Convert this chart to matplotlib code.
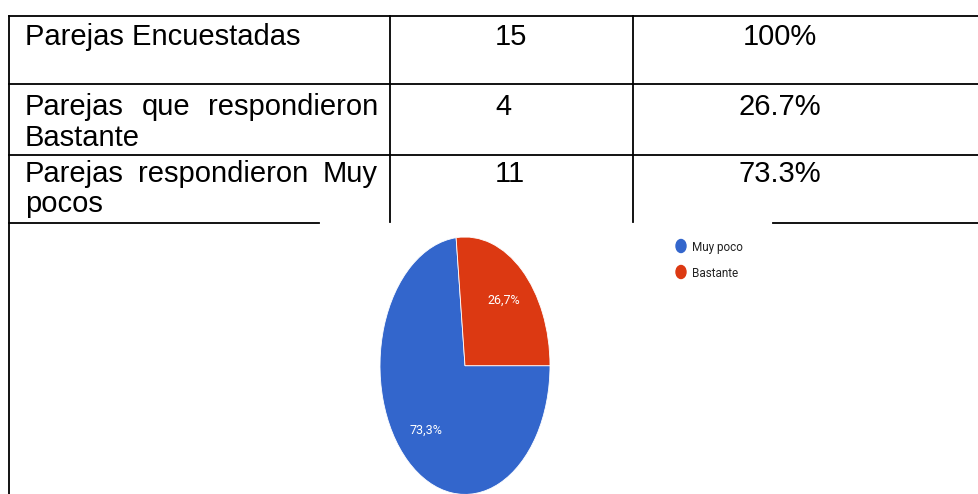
import matplotlib
matplotlib.use("Agg")
import matplotlib.pyplot as plt
from matplotlib.patches import Ellipse

# table contents
row_lines = [
    ["Parejas Encuestadas"],
    ["Parejas que respondieron", "Bastante"],
    ["Parejas respondieron Muy", "pocos"],
]
counts = [15, 4, 11]
percents = ["100%", "26.7%", "73.3%"]

# pie contents
pie_labels = ["Muy poco", "Bastante"]
pie_values = [11, 4]
pie_colors = ["#3366CC", "#DC3912"]

W, H = 979, 494
fig = plt.figure(figsize=(W / 100, H / 100), dpi=100)
fig.patch.set_facecolor("white")

ax = fig.add_axes([0, 0, 1, 1])
ax.set_xlim(0, W)
ax.set_ylim(H, 0)
ax.axis("off")

lw = 1.3
ax.plot([9, W], [16, 16], color="black", lw=lw)
ax.plot([9, W], [84, 84], color="black", lw=lw)
ax.plot([9, W], [155, 155], color="black", lw=lw)
ax.plot([9, 319], [223, 223], color="black", lw=lw)
ax.plot([773, W], [223, 223], color="black", lw=lw)
ax.plot([9, 9], [16, H], color="black", lw=lw)
ax.plot([390, 390], [16, 222], color="black", lw=lw)
ax.plot([633, 633], [16, 222], color="black", lw=lw)

font = dict(family=["Liberation Sans", "DejaVu Sans"], fontsize=21, color="black")
small = ["Roboto", "DejaVu Sans"]
baselines = [[45], [115, 146], [182, 212]]
x_left, x_right = 25, 378

fig.canvas.draw()
renderer = fig.canvas.get_renderer()
inv = ax.transData.inverted()


def text_width(s):
    t = ax.text(0, 0, s, **font)
    bb = t.get_window_extent(renderer)
    t.remove()
    (x0, _), (x1, _) = inv.transform([[bb.x0, bb.y0], [bb.x1, bb.y1]])
    return x1 - x0


for lines, ys in zip(row_lines, baselines):
    for i, (line, y) in enumerate(zip(lines, ys)):
        justify = len(lines) > 1 and i < len(lines) - 1
        words = line.split()
        if not justify or len(words) < 2:
            ax.text(x_left, y, line, ha="left", va="baseline", **font)
            continue
        widths = [text_width(w) for w in words]
        gap = (x_right - x_left - sum(widths)) / (len(words) - 1)
        x = x_left
        for w, wd in zip(words, widths):
            ax.text(x, y, w, ha="left", va="baseline", **font)
            x += wd + gap

for c, p, ys in zip(counts, percents, baselines):
    ax.text(495, ys[0], str(c), ha="left", va="baseline", **font)
    ax.text(780, ys[0], p, ha="center", va="baseline", **font)

# pie, stretched vertically like the pasted picture
pax = fig.add_axes([380 / W, -0.4 / H, 170 / W, 257.4 / H])
wedges, _, autotexts = pax.pie(
    pie_values,
    colors=pie_colors,
    startangle=0,
    counterclock=False,
    autopct=lambda v: f"{v:.1f}%".replace(".", ","),
    pctdistance=0.68,
    wedgeprops=dict(edgecolor="white", linewidth=0.6),
    textprops=dict(color="white", fontsize=9, family=small),
)
pax.set_aspect("auto")
pax.set_xlim(-1, 1)
pax.set_ylim(-1, 1)
pax.axis("off")

# legend
leg_y = [246, 272]
for lab, col, y in zip(pie_labels, pie_colors, leg_y):
    ax.add_patch(Ellipse((681, y), 10, 13, color=col))
    ax.text(692, y + 4.5, lab, ha="left", va="baseline", fontsize=8.5, color="#222222",
            family=small)

fig.savefig("out.png", dpi=100)
